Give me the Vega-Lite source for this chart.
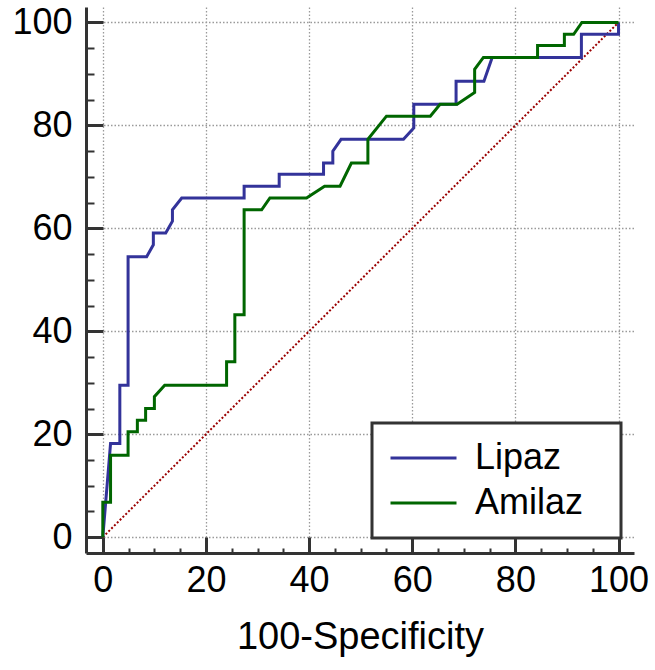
{
  "$schema": "https://vega.github.io/schema/vega-lite/v6.json",
  "width": 548,
  "height": 546,
  "autosize": {"type": "none"},
  "padding": {"left": 86, "top": 7, "right": 21, "bottom": 117},
  "config": {
    "view": {"stroke": null},
    "font": "Liberation Sans",
    "axis": {
      "domainColor": "#333333",
      "domainWidth": 3,
      "tickColor": "#333333",
      "labelColor": "#000000",
      "labelFontSize": 36,
      "labelFont": "Liberation Sans",
      "titleFont": "Liberation Sans",
      "titleColor": "#000000",
      "titleFontWeight": "normal",
      "gridColor": "#9a9a9a",
      "gridDash": [1.5, 2],
      "gridWidth": 1.3
    }
  },
  "encoding": {
    "x": {
      "field": "fpr",
      "type": "quantitative",
      "scale": {"domain": [-3.26, 103.0], "nice": false, "zero": false},
      "axis": {
        "title": "100-Specificity",
        "titleFontSize": 38,
        "titlePadding": 9,
        "values": [0, 5, 10, 15, 20, 25, 30, 35, 40, 45, 50, 55, 60, 65, 70, 75, 80, 85, 90, 95, 100],
        "labelExpr": "datum.value % 20 === 0 ? datum.label : ''",
        "labelPadding": 26,
        "labelFlush": false,
        "labelOverlap": false,
        "tickSize": {"condition": {"test": "datum.value % 20 === 0", "value": -16}, "value": -5},
        "tickWidth": {"condition": {"test": "datum.value % 20 === 0", "value": 3}, "value": 2},
        "gridOpacity": {"condition": {"test": "datum.value % 20 === 0", "value": 1}, "value": 0}
      }
    },
    "y": {
      "field": "sens",
      "type": "quantitative",
      "scale": {"domain": [-3.07, 103.0], "nice": false, "zero": false},
      "axis": {
        "title": null,
        "values": [0, 5, 10, 15, 20, 25, 30, 35, 40, 45, 50, 55, 60, 65, 70, 75, 80, 85, 90, 95, 100],
        "labelExpr": "datum.value % 20 === 0 ? datum.label : ''",
        "labelPadding": 31,
        "labelFlush": false,
        "labelOverlap": false,
        "tickSize": {"condition": {"test": "datum.value % 20 === 0", "value": -17}, "value": -8},
        "tickWidth": {"condition": {"test": "datum.value % 20 === 0", "value": 3}, "value": 2},
        "gridOpacity": {"condition": {"test": "datum.value % 20 === 0", "value": 1}, "value": 0}
      }
    }
  },
  "layer": [
    {
      "data": {"values": [{"fpr": 0, "sens": 0}, {"fpr": 100, "sens": 100}]},
      "mark": {"type": "line", "color": "#9b0000", "strokeDash": [2, 2], "strokeWidth": 2}
    },
    {
      "data": {
        "values": [
          {"test": "Lipaz", "i": 0, "fpr": 0, "sens": 0},
          {"test": "Lipaz", "i": 1, "fpr": 1.5, "sens": 18.2},
          {"test": "Lipaz", "i": 2, "fpr": 3.3, "sens": 18.2},
          {"test": "Lipaz", "i": 3, "fpr": 3.3, "sens": 29.5},
          {"test": "Lipaz", "i": 4, "fpr": 4.9, "sens": 29.5},
          {"test": "Lipaz", "i": 5, "fpr": 4.9, "sens": 54.5},
          {"test": "Lipaz", "i": 6, "fpr": 8.5, "sens": 54.5},
          {"test": "Lipaz", "i": 7, "fpr": 9.8, "sens": 56.8},
          {"test": "Lipaz", "i": 8, "fpr": 9.8, "sens": 59.1},
          {"test": "Lipaz", "i": 9, "fpr": 12.2, "sens": 59.1},
          {"test": "Lipaz", "i": 10, "fpr": 13.5, "sens": 61.4},
          {"test": "Lipaz", "i": 11, "fpr": 13.5, "sens": 63.6},
          {"test": "Lipaz", "i": 12, "fpr": 15.3, "sens": 65.9},
          {"test": "Lipaz", "i": 13, "fpr": 27.4, "sens": 65.9},
          {"test": "Lipaz", "i": 14, "fpr": 27.4, "sens": 68.2},
          {"test": "Lipaz", "i": 15, "fpr": 34.2, "sens": 68.2},
          {"test": "Lipaz", "i": 16, "fpr": 34.2, "sens": 70.5},
          {"test": "Lipaz", "i": 17, "fpr": 42.8, "sens": 70.5},
          {"test": "Lipaz", "i": 18, "fpr": 42.8, "sens": 72.7},
          {"test": "Lipaz", "i": 19, "fpr": 44.6, "sens": 72.7},
          {"test": "Lipaz", "i": 20, "fpr": 44.6, "sens": 75.0},
          {"test": "Lipaz", "i": 21, "fpr": 46.2, "sens": 77.3},
          {"test": "Lipaz", "i": 22, "fpr": 58.3, "sens": 77.3},
          {"test": "Lipaz", "i": 23, "fpr": 60.3, "sens": 79.5},
          {"test": "Lipaz", "i": 24, "fpr": 60.3, "sens": 84.1},
          {"test": "Lipaz", "i": 25, "fpr": 68.5, "sens": 84.1},
          {"test": "Lipaz", "i": 26, "fpr": 68.5, "sens": 88.6},
          {"test": "Lipaz", "i": 27, "fpr": 73.9, "sens": 88.6},
          {"test": "Lipaz", "i": 28, "fpr": 75.5, "sens": 93.2},
          {"test": "Lipaz", "i": 29, "fpr": 92.8, "sens": 93.2},
          {"test": "Lipaz", "i": 30, "fpr": 92.8, "sens": 97.7},
          {"test": "Lipaz", "i": 31, "fpr": 100, "sens": 97.7},
          {"test": "Lipaz", "i": 32, "fpr": 100, "sens": 100},
          {"test": "Amilaz", "i": 0, "fpr": 0, "sens": 0},
          {"test": "Amilaz", "i": 1, "fpr": 0, "sens": 6.8},
          {"test": "Amilaz", "i": 2, "fpr": 1.5, "sens": 6.8},
          {"test": "Amilaz", "i": 3, "fpr": 1.5, "sens": 15.9},
          {"test": "Amilaz", "i": 4, "fpr": 4.9, "sens": 15.9},
          {"test": "Amilaz", "i": 5, "fpr": 4.9, "sens": 20.5},
          {"test": "Amilaz", "i": 6, "fpr": 6.7, "sens": 20.5},
          {"test": "Amilaz", "i": 7, "fpr": 6.7, "sens": 22.7},
          {"test": "Amilaz", "i": 8, "fpr": 8.3, "sens": 22.7},
          {"test": "Amilaz", "i": 9, "fpr": 8.3, "sens": 25.0},
          {"test": "Amilaz", "i": 10, "fpr": 10.0, "sens": 25.0},
          {"test": "Amilaz", "i": 11, "fpr": 10.0, "sens": 27.3},
          {"test": "Amilaz", "i": 12, "fpr": 12.0, "sens": 29.5},
          {"test": "Amilaz", "i": 13, "fpr": 24.0, "sens": 29.5},
          {"test": "Amilaz", "i": 14, "fpr": 24.0, "sens": 34.1},
          {"test": "Amilaz", "i": 15, "fpr": 25.6, "sens": 34.1},
          {"test": "Amilaz", "i": 16, "fpr": 25.6, "sens": 43.2},
          {"test": "Amilaz", "i": 17, "fpr": 27.4, "sens": 43.2},
          {"test": "Amilaz", "i": 18, "fpr": 27.4, "sens": 63.6},
          {"test": "Amilaz", "i": 19, "fpr": 30.8, "sens": 63.6},
          {"test": "Amilaz", "i": 20, "fpr": 32.4, "sens": 65.9},
          {"test": "Amilaz", "i": 21, "fpr": 39.5, "sens": 65.9},
          {"test": "Amilaz", "i": 22, "fpr": 43.0, "sens": 68.2},
          {"test": "Amilaz", "i": 23, "fpr": 46.0, "sens": 68.2},
          {"test": "Amilaz", "i": 24, "fpr": 48.2, "sens": 72.7},
          {"test": "Amilaz", "i": 25, "fpr": 51.4, "sens": 72.7},
          {"test": "Amilaz", "i": 26, "fpr": 51.4, "sens": 77.3},
          {"test": "Amilaz", "i": 27, "fpr": 55.0, "sens": 81.8},
          {"test": "Amilaz", "i": 28, "fpr": 63.5, "sens": 81.8},
          {"test": "Amilaz", "i": 29, "fpr": 65.4, "sens": 84.1},
          {"test": "Amilaz", "i": 30, "fpr": 68.7, "sens": 84.1},
          {"test": "Amilaz", "i": 31, "fpr": 72.1, "sens": 86.4},
          {"test": "Amilaz", "i": 32, "fpr": 72.1, "sens": 90.9},
          {"test": "Amilaz", "i": 33, "fpr": 73.8, "sens": 93.2},
          {"test": "Amilaz", "i": 34, "fpr": 84.3, "sens": 93.2},
          {"test": "Amilaz", "i": 35, "fpr": 84.3, "sens": 95.5},
          {"test": "Amilaz", "i": 36, "fpr": 89.5, "sens": 95.5},
          {"test": "Amilaz", "i": 37, "fpr": 89.5, "sens": 97.7},
          {"test": "Amilaz", "i": 38, "fpr": 91.3, "sens": 97.7},
          {"test": "Amilaz", "i": 39, "fpr": 92.9, "sens": 100},
          {"test": "Amilaz", "i": 40, "fpr": 100, "sens": 100}
        ]
      },
      "mark": {"type": "line", "strokeWidth": 3},
      "encoding": {
        "order": {"field": "i", "type": "quantitative"},
        "color": {
          "field": "test",
          "type": "nominal",
          "sort": ["Lipaz", "Amilaz"],
          "scale": {"domain": ["Lipaz", "Amilaz"], "range": ["#33339a", "#006600"]},
          "legend": {
            "title": null,
            "orient": "none",
            "legendX": 286,
            "legendY": 416,
            "symbolType": "stroke",
            "symbolSize": 4356,
            "symbolStrokeWidth": 3,
            "clipHeight": 36,
            "rowPadding": 9,
            "padding": 17,
            "labelOffset": 17,
            "labelFontSize": 36,
            "labelFont": "Liberation Sans",
            "labelColor": "#000000",
            "labelExpr": "datum.label + '\u00a0\u00a0\u200b'",
            "fillColor": "#ffffff",
            "strokeColor": "#333333",
            "encode": {"legend": {"update": {"strokeWidth": {"value": 3}}}}
          }
        }
      }
    }
  ]
}
